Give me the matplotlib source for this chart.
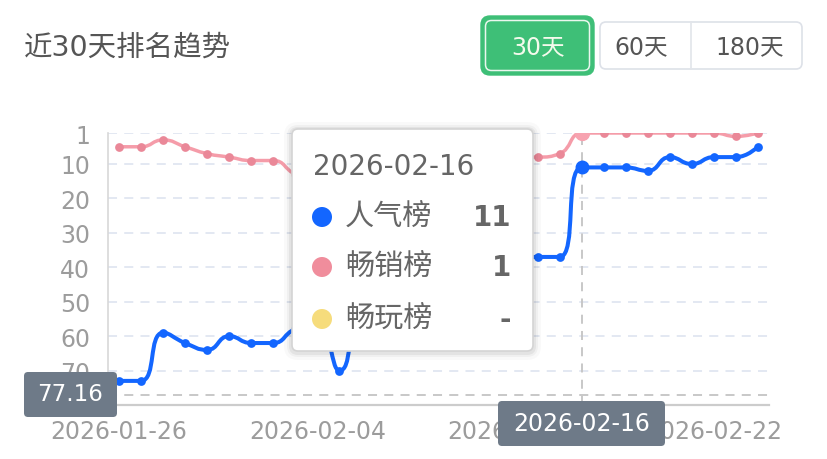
import numpy as np
import pandas as pd
import matplotlib
matplotlib.use('Agg')
import matplotlib.pyplot as plt
from matplotlib.path import Path
from matplotlib.patches import PathPatch, FancyBboxPatch, Circle

plt.rcParams['font.family'] = ['DejaVu Sans', 'Noto Sans CJK SC']

# ---------------- data ----------------
dates = pd.date_range('2026-01-26', periods=30).strftime('%Y-%m-%d').tolist()
popularity = [73, 73, 59, 62, 64, 60, 62, 62, 58, 57, 70, 50, 45, 42, 40,
              39, 38, 37, 37, 37, 37, 11, 11, 11, 12, 8, 10, 8, 8, 5]
bestseller = [5, 5, 3, 5, 7, 8, 9, 9, 13, 15, 14, 12, 11, 10, 10,
              9, 9, 8, 8, 8, 7, 1, 1, 1, 1, 1, 1, 1, 2, 1]
series_names = ['人气榜', '畅销榜', '畅玩榜']
series_colors = ['#1366FF', '#F08D9C', '#F6DC7C']
tooltip_values = ['11', '1', '-']
tick_idx = [0, 9, 18, 27]
yticks = [1, 10, 20, 30, 40, 50, 60, 70]
y_min, y_max = 1, 80
hover_idx = 21
hover_y = 77.16
title = '近30天排名趋势'
buttons = ['30天', '60天', '180天']

W, H = 827, 460
fig = plt.figure(figsize=(W / 100, H / 100), dpi=100)
fig.patch.set_facecolor('white')

L, R, T, B = 108, 769, 134, 406
ax = fig.add_axes([L / W, 1 - B / H, (R - L) / W, (B - T) / H])
ax.set_xlim(-0.5, len(dates) - 0.5)
ax.set_ylim(y_max, y_min)
ax.set_facecolor('none')

sx = (R - L) / len(dates)
sy = (B - T) / (y_max - y_min)


def _clamp(v, a, b):
    return min(max(v, min(a, b)), max(a, b))


def smooth_path(xs, ys, smooth=0.5):
    """Bezier smoothing in the style of ECharts 5 (with extreme clamping)."""
    P = np.column_stack([np.asarray(xs, float) * sx, np.asarray(ys, float) * sy])
    n = len(P)
    verts = [P[0].copy()]
    codes = [Path.MOVETO]
    cp0 = P[0].copy()
    for i in range(1, n):
        x, y = P[i]
        if i < n - 1:
            px, py = P[i - 1]
            nx, ny = P[i + 1]
            vx, vy = nx - px, ny - py
            lp = np.hypot(x - px, y - py)
            ln = np.hypot(nx - x, ny - y)
            r = ln / (ln + lp)
            ncx = x + vx * smooth * r
            ncy = y + vy * smooth * r
            ncx = _clamp(ncx, nx, x)
            ncy = _clamp(ncy, ny, y)
            vx, vy = ncx - x, ncy - y
            c1x = x - vx * lp / ln
            c1y = y - vy * lp / ln
            c1x = _clamp(c1x, px, x)
            c1y = _clamp(c1y, py, y)
            vx, vy = x - c1x, y - c1y
            ncx = x + vx * ln / lp
            ncy = y + vy * ln / lp
        else:
            c1x, c1y = x, y
            ncx, ncy = x, y
        verts += [cp0, np.array([c1x, c1y]), np.array([x, y])]
        codes += [Path.CURVE4] * 3
        cp0 = np.array([ncx, ncy])
    V = np.array(verts)
    V[:, 0] /= sx
    V[:, 1] /= sy
    return Path(V, codes)


# grid
for yv in yticks:
    ax.axhline(yv, color='#E0E6F1', lw=1.3, dashes=(5, 4), zorder=0.5)

# crosshair
ax.axvline(hover_idx, color='#C4C4C4', lw=1.3, dashes=(5, 4), zorder=1)
ax.axhline(hover_y, color='#C4C4C4', lw=1.3, dashes=(5, 4), zorder=1)

xs = np.arange(len(dates))
# bestseller
ax.add_patch(PathPatch(smooth_path(xs, bestseller), fill=False, edgecolor='#F59CA9',
                       lw=2.5, capstyle='round', joinstyle='round', zorder=2))
ax.plot(xs, bestseller, 'o', ms=6.3, color='#EA8898', mec='none', zorder=2.5)
ax.plot([hover_idx], [bestseller[hover_idx]], 'o', ms=10, color='#F7A3B0', mec='#F7A3B0', zorder=2.6)
# popularity
ax.add_patch(PathPatch(smooth_path(xs, popularity), fill=False, edgecolor=series_colors[0],
                       lw=2.9, capstyle='round', joinstyle='round', zorder=3))
ax.plot(xs, popularity, 'o', ms=6.3, color=series_colors[0], mec='none', zorder=3.5)
ax.plot([hover_idx], [popularity[hover_idx]], 'o', ms=9, color=series_colors[0], mec=series_colors[0], zorder=3.6)

ax.set_yticks(yticks)
ax.set_yticklabels([str(v) for v in yticks])
ax.set_xticks(tick_idx)
ax.set_xticklabels([dates[i] for i in tick_idx])
ax.tick_params(axis='both', length=0, labelsize=17, labelcolor='#9C9C9C')
ax.tick_params(axis='y', pad=13)
ax.tick_params(axis='x', pad=10)
for s in ['top', 'right']:
    ax.spines[s].set_visible(False)
ax.spines['left'].set_color('#D8D8D8')
ax.spines['left'].set_linewidth(1.2)
ax.spines['bottom'].set_color('#CCCCCC')
ax.spines['bottom'].set_linewidth(1.6)

# ---------------- overlay (pixel coords) ----------------
ov = fig.add_axes([0, 0, 1, 1])
ov.set_xlim(0, W)
ov.set_ylim(H, 0)
ov.axis('off')
ov.patch.set_visible(False)

# title
ov.text(24, 48, title, fontsize=20.5, color='#555555', va='center', ha='left')

# buttons
ov.add_patch(FancyBboxPatch((600, 23), 208 - 6, 47, boxstyle='round,pad=0,rounding_size=6',
                            fc='white', ec='#DDE1E8', lw=1.2))
ov.plot([691, 691], [23, 70], color='#E2E5EA', lw=1.2)
ov.add_patch(FancyBboxPatch((481, 17), 113, 59, boxstyle='round,pad=0,rounding_size=9',
                            fc='#3EBF77', ec='#3EBF77', lw=1, zorder=3))
ov.add_patch(FancyBboxPatch((485.5, 21.5), 104, 50, boxstyle='round,pad=0,rounding_size=6',
                            fc='#3EBF77', ec='#EAF7EE', lw=1.1, zorder=3.1))
ov.text(538, 47, buttons[0], fontsize=17, color='#F4FAEC', ha='center', va='center', zorder=4)
ov.text(641, 47, buttons[1], fontsize=17, color='#555555', ha='center', va='center')
ov.text(750, 47, buttons[2], fontsize=17, color='#555555', ha='center', va='center')

# tooltip shadow + box
for k, a in [(8, 0.025), (5, 0.035), (3, 0.05)]:
    ov.add_patch(FancyBboxPatch((292 - k, 131 - k), 241 + 2 * k, 222 + 2 * k,
                                boxstyle='round,pad=0,rounding_size=%d' % (6 + k),
                                fc='#000000', ec='none', alpha=a, zorder=5))
ov.add_patch(FancyBboxPatch((292, 130), 241, 222, boxstyle='round,pad=0,rounding_size=6',
                            fc='white', ec='#D4D4D4', lw=1.2, zorder=6))
ov.text(313, 167, dates[hover_idx], fontsize=20, color='#666666', ha='left', va='center', zorder=7)
row_y = [218, 268, 320]
for name, col, val, yy in zip(series_names, series_colors, tooltip_values, row_y):
    ov.add_patch(Circle((322, yy), 10, fc=col, ec='none', zorder=7))
    ov.text(345, yy, name, fontsize=21, color='#666666', ha='left', va='center', zorder=7)
    ov.text(511, yy, val, fontsize=20, color='#666666', ha='right', va='center',
            fontweight='bold', zorder=7)

# axis pointer labels
ov.add_patch(FancyBboxPatch((24, 373), 93, 45, boxstyle='round,pad=0,rounding_size=4',
                            fc='#6E7A88', ec='none', zorder=8))
ov.text(70.5, 395, '%.2f' % hover_y, fontsize=16.5, color='white', ha='center', va='center', zorder=9)
ov.add_patch(FancyBboxPatch((498, 402), 167, 45, boxstyle='round,pad=0,rounding_size=4',
                            fc='#6E7A88', ec='none', zorder=8))
ov.text(581.5, 424.5, dates[hover_idx], fontsize=17, color='white', ha='center', va='center', zorder=9)

fig.savefig('out.png', dpi=100, facecolor='white')
